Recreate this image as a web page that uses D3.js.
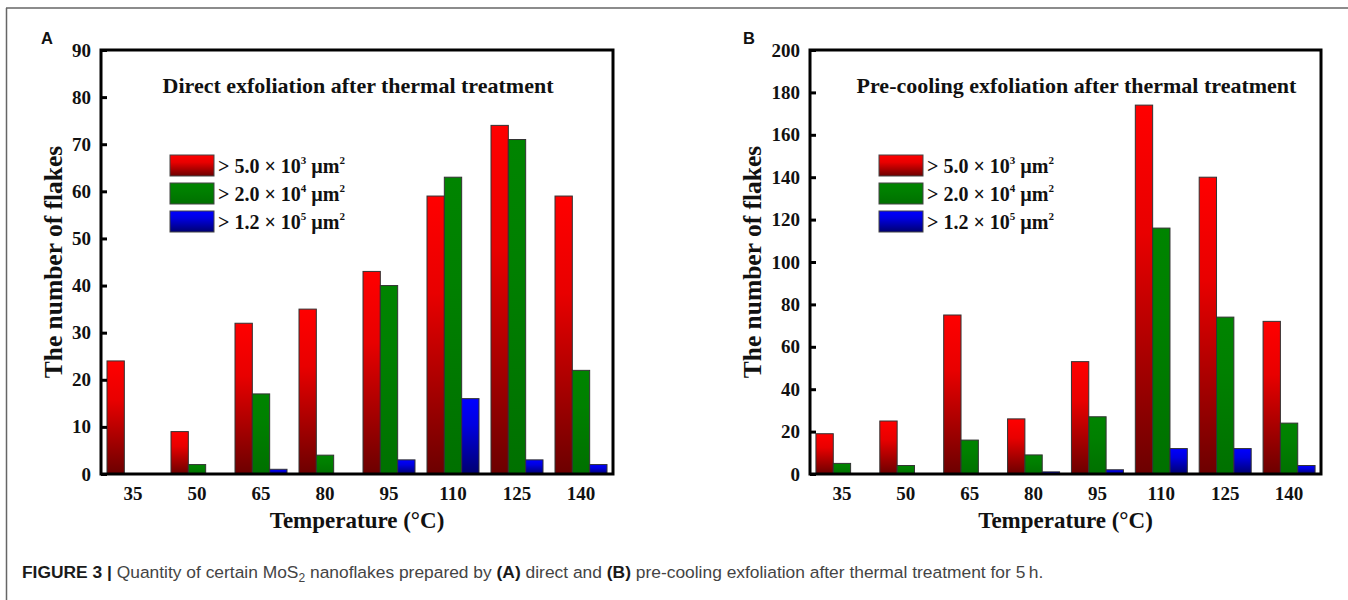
<!DOCTYPE html>
<html>
<head>
<meta charset="utf-8">
<script src="https://cdn.jsdelivr.net/npm/d3@7"></script>
<style>
    body { margin: 0; background: #fff; }
    svg { display: block; }
    .serif { font-family: "Liberation Serif", "Times New Roman", serif; font-weight: bold; fill: #111; }
    .sans { font-family: "Liberation Sans", Arial, sans-serif; }
</style>
</head>
<body>
<svg id="canvas" width="1348" height="600"></svg>
<script>
// data
const temps = ['35', '50', '65', '80', '95', '110', '125', '140'];
const seriesKeys = ['s5e3', 's2e4', 's12e5'];
const legendParts = [
    ['> 5.0 × 10', '3', ' µm', '2'],
    ['> 2.0 × 10', '4', ' µm', '2'],
    ['> 1.2 × 10', '5', ' µm', '2']
];

const directS5e3 = [24, 9, 32, 35, 43, 59, 74, 59];
const directS2e4 = [0, 2, 17, 4, 40, 63, 71, 22];
const directS12e5 = [0, 0, 1, 0, 3, 16, 3, 2];

const precoolS5e3 = [19, 25, 75, 26, 53, 174, 140, 72];
const precoolS2e4 = [5, 4, 16, 9, 27, 116, 74, 24];
const precoolS12e5 = [0, 0, 0, 1, 2, 12, 12, 4];

const directTicks = [0, 10, 20, 30, 40, 50, 60, 70, 80, 90];
const precoolTicks = [0, 20, 40, 60, 80, 100, 120, 140, 160, 180, 200];

const svg = d3.select('#canvas');

// gradients like the original bars
const defs = svg.append('defs');
function grad(id, top, mid, bottom) {
    let g = defs.append('linearGradient')
        .attr('id', id)
        .attr('x1', 0).attr('y1', 0).attr('x2', 0).attr('y2', 1);
    g.append('stop').attr('offset', '0%').attr('stop-color', top);
    g.append('stop').attr('offset', '35%').attr('stop-color', mid);
    g.append('stop').attr('offset', '100%').attr('stop-color', bottom);
}
grad('g-s5e3', '#ff0000', '#e80000', '#6c0000');
grad('g-s2e4', '#008400', '#008000', '#007000');
grad('g-s12e5', '#0000ff', '#0000e0', '#000070');

// figure frame
svg.append('line').attr('x1', 6).attr('x2', 1348).attr('y1', 8).attr('y2', 8)
    .attr('stroke', '#666').attr('stroke-width', 1.5);
svg.append('line').attr('x1', 6.5).attr('x2', 6.5).attr('y1', 8).attr('y2', 600)
    .attr('stroke', '#666').attr('stroke-width', 1.5);

function drawPanel(p) {
    const g = svg.append('g');

    const x = d3.scaleBand().domain(temps).range([p.left, p.right]).padding(0);
    const y = d3.scaleLinear().domain([0, p.max]).range([p.bottom, p.top]);
    const xs = d3.scaleBand().domain(seriesKeys).range([-26, 26]);

    const rows = temps.map((t, i) => ({
        t: t,
        vals: seriesKeys.map((k, j) => ({ key: k, v: p.series[j][i] }))
    }));

    // bars
    g.append('g').selectAll('g')
        .data(rows)
        .join('g')
        .attr('transform', d => `translate(${x(d.t) + x.bandwidth() / 2},0)`)
        .selectAll('rect')
        .data(d => d.vals.filter(v => v.v > 0))
        .join('rect')
        .attr('x', d => xs(d.key))
        .attr('width', xs.bandwidth())
        .attr('y', d => y(d.v))
        .attr('height', d => y(0) - y(d.v))
        .attr('fill', d => `url(#g-${d.key})`)
        .attr('stroke', '#333')
        .attr('stroke-width', 1);

    // frame
    g.append('rect')
        .attr('x', p.left).attr('y', p.top)
        .attr('width', p.right - p.left).attr('height', p.bottom - p.top)
        .attr('fill', 'none').attr('stroke', '#000').attr('stroke-width', 3);

    // y axis
    const ya = g.append('g')
        .attr('transform', `translate(${p.left},0)`)
        .call(d3.axisLeft(y).tickValues(p.ticks).tickSize(-6).tickPadding(10));
    ya.select('.domain').remove();
    ya.selectAll('line').attr('stroke', '#000').attr('stroke-width', 3);
    ya.selectAll('text').attr('class', 'serif').style('font-size', '19px').attr('fill', '#111');
    ya.attr('font-family', null).attr('font-size', null);

    // x axis
    const xa = g.append('g')
        .attr('transform', `translate(0,${p.bottom})`)
        .call(d3.axisBottom(x).tickSize(0).tickPadding(13));
    xa.select('.domain').remove();
    xa.selectAll('text').attr('class', 'serif').style('font-size', '19px').attr('fill', '#111');
    xa.attr('font-family', null).attr('font-size', null);

    // axis titles
    g.append('text')
        .attr('class', 'serif')
        .attr('transform', `translate(${p.left + p.yTitleDx},${(p.top + p.bottom) / 2}) rotate(-90)`)
        .attr('text-anchor', 'middle')
        .style('font-size', '25.5px')
        .text('The number of flakes');

    g.append('text')
        .attr('class', 'serif')
        .attr('x', (p.left + p.right) / 2)
        .attr('y', 528)
        .attr('text-anchor', 'middle')
        .style('font-size', '23px')
        .text('Temperature (°C)');

    // panel title
    g.append('text')
        .attr('class', 'serif')
        .attr('x', (p.left + p.right) / 2 + p.titleDx)
        .attr('y', 93)
        .attr('text-anchor', 'middle')
        .style('font-size', '22px')
        .text(p.title);

    // legend
    const lg = g.append('g').selectAll('g')
        .data(seriesKeys)
        .join('g')
        .attr('transform', (d, i) => `translate(${p.legendX},${155 + i * 28})`);
    lg.append('rect')
        .attr('width', 44).attr('height', 21)
        .attr('fill', d => `url(#g-${d})`)
        .attr('stroke', '#444').attr('stroke-width', 1);
    const lt = lg.append('text')
        .attr('class', 'serif')
        .attr('x', 48)
        .attr('y', 18)
        .style('font-size', '20px');
    lt.each(function (d, i) {
        const t = d3.select(this);
        const parts = legendParts[i];
        t.append('tspan').text(parts[0]);
        t.append('tspan').attr('dy', -9).style('font-size', '11px').text(parts[1]);
        t.append('tspan').attr('dy', 9).text(parts[2]);
        t.append('tspan').attr('dy', -9).style('font-size', '11px').text(parts[3]);
    });

    // panel letter
    g.append('text')
        .attr('class', 'sans')
        .attr('x', p.letterX)
        .attr('y', 44)
        .style('font-size', '16.5px')
        .style('font-weight', 'bold')
        .attr('fill', '#111')
        .text(p.letter);
}

drawPanel({
    letter: 'A', letterX: 41,
    title: 'Direct exfoliation after thermal treatment', titleDx: 1,
    left: 101, right: 613, top: 50, bottom: 474,
    max: 90, ticks: directTicks,
    series: [directS5e3, directS2e4, directS12e5],
    legendX: 170, yTitleDx: -39
});

drawPanel({
    letter: 'B', letterX: 743,
    title: 'Pre-cooling exfoliation after thermal treatment', titleDx: 11,
    left: 810, right: 1321, top: 50, bottom: 474,
    max: 200, ticks: precoolTicks,
    series: [precoolS5e3, precoolS2e4, precoolS12e5],
    legendX: 879, yTitleDx: -49
});

// caption
const cap = svg.append('text')
    .attr('class', 'sans')
    .attr('x', 22)
    .attr('y', 578)
    .style('font-size', '17.4px')
    .attr('fill', '#444');
cap.append('tspan').style('font-weight', 'bold').attr('fill', '#1a1a1a').text('FIGURE 3 | ');
cap.append('tspan').text('Quantity of certain MoS');
cap.append('tspan').attr('dy', 4).style('font-size', '12px').text('2');
cap.append('tspan').attr('dy', -4).text(' nanoflakes prepared by ');
cap.append('tspan').style('font-weight', 'bold').attr('fill', '#1a1a1a').text('(A)');
cap.append('tspan').text(' direct and ');
cap.append('tspan').style('font-weight', 'bold').attr('fill', '#1a1a1a').text('(B)');
cap.append('tspan').text(' pre-cooling exfoliation after thermal treatment for 5\u2009h.');
</script>
</body>
</html>
